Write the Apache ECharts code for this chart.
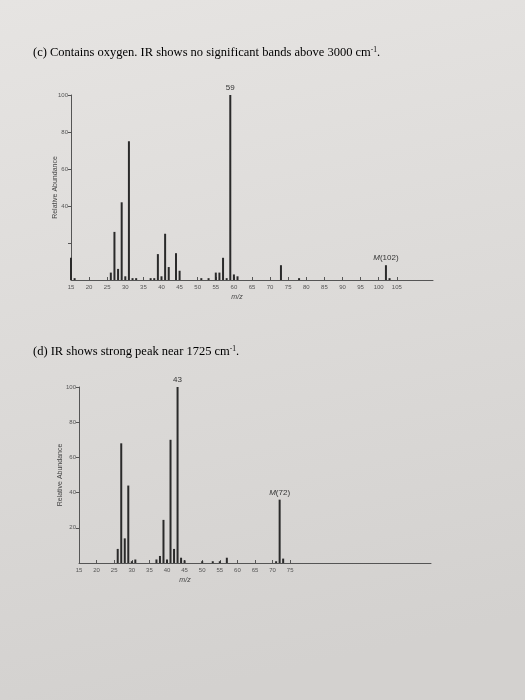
<!DOCTYPE html>
<html>
<head>
<meta charset="utf-8">
<script src="https://cdn.jsdelivr.net/npm/echarts@6/dist/echarts.min.js"></script>
<style>
  html, body { margin: 0; padding: 0; }
  #main { width: 525px; height: 700px; }
</style>
</head>
<body>
<div id="main"></div>
<script>
// spectrum (c)
const mzC = [15, 16, 26, 27, 28, 29, 30, 31, 32, 33, 37, 38, 39, 40, 41, 42, 44, 45, 51, 53, 55, 56, 57, 58, 59, 60, 61, 73, 78, 102, 103]
const abC = [12, 1, 4, 26, 6, 42, 2, 75, 1, 1, 1, 1, 14, 2, 25, 7, 14.5, 5, 1, 1, 4, 4, 12, 1, 100, 3, 2, 8, 1, 8, 1]
const ticksC = [15, 20, 25, 30, 35, 40, 45, 50, 55, 60, 65, 70, 75, 80, 85, 90, 95, 100, 105]
const yTicksC = [20, 40, 60, 80, 100]
const yLabelsC = [40, 60, 80, 100]
const peakLabelsC = { 59: '59', 102: '{i|M}(102)' }

// spectrum (d)
const mzD = [26, 27, 28, 29, 30, 31, 37, 38, 39, 40, 41, 42, 43, 44, 45, 50, 53, 55, 57, 71, 72, 73]
const abD = [8, 68, 14, 44, 1, 2, 2, 4, 24.5, 2, 70, 8, 100, 3, 1.5, 1, 1, 1, 3, 1, 36, 2.5]
const ticksD = [15, 20, 25, 30, 35, 40, 45, 50, 55, 60, 65, 70, 75]
const yTicksD = [20, 40, 60, 80, 100]
const yLabelsD = [20, 40, 60, 80, 100]
const peakLabelsD = { 43: '43', 72: '{i|M}(72)' }

const ink = '#2a2a2a'
const axisCol = '#555'
const smallFont = { fontSize: 6, color: '#555', fontFamily: 'Liberation Sans' }

function makeData(mz, ab, labels) {
  return mz.map(function (m, i) {
    const item = { value: [m, ab[i]] }
    if (labels[m]) {
      item.label = {
        show: true, position: 'top', distance: 3,
        formatter: labels[m],
        fontSize: 8, color: '#333', fontFamily: 'Liberation Sans',
        rich: { i: { fontSize: 8, fontStyle: 'italic', color: '#333', fontFamily: 'Liberation Sans' } }
      }
    }
    return item
  })
}

function xAxisFor(gridIndex, ticks, namePad) {
  return {
    gridIndex: gridIndex, type: 'value', min: 15, max: 115, interval: 5,
    axisLine: { lineStyle: { color: axisCol, width: 1 } },
    axisTick: { inside: true, length: 3, customValues: ticks, lineStyle: { color: axisCol } },
    axisLabel: Object.assign({ customValues: ticks, margin: 4 }, smallFont),
    splitLine: { show: false },
    name: 'm/z', nameLocation: 'middle', nameGap: 14, nameMoveOverlap: false,
    nameTextStyle: { fontSize: 7, fontStyle: 'italic', color: '#444', fontFamily: 'Liberation Sans', padding: namePad }
  }
}

function yAxisFor(gridIndex, ticks, labels, gap) {
  return {
    gridIndex: gridIndex, type: 'value', min: 0, max: 100, interval: 20,
    axisLine: { show: true, lineStyle: { color: axisCol, width: 1 } },
    axisTick: { show: true, length: 3, customValues: ticks, lineStyle: { color: axisCol } },
    axisLabel: Object.assign({ customValues: labels, margin: 3 }, smallFont),
    splitLine: { show: false },
    name: 'Relative Abundance', nameLocation: 'middle', nameRotate: 90, nameGap: gap, nameMoveOverlap: false,
    nameTextStyle: { fontSize: 7, color: '#444', fontFamily: 'Liberation Sans' }
  }
}

const titleRich = {
  a: { fontSize: 12.5, fontFamily: 'Liberation Serif', color: '#222', lineHeight: 13, verticalAlign: 'bottom' },
  s: { fontSize: 7.5, fontFamily: 'Liberation Serif', color: '#222', lineHeight: 13, verticalAlign: 'top' }
}

const chart = echarts.init(document.getElementById('main'))
chart.setOption({
  animation: false,
  backgroundColor: new echarts.graphic.LinearGradient(0, 0, 0.3, 1, [
    { offset: 0, color: '#e6e4e2' },
    { offset: 1, color: '#d3d1cf' }
  ]),
  graphic: [
    {
      type: 'text', left: 33, top: 46,
      style: { text: '{a|(c) Contains oxygen. IR shows no significant bands above 3000 cm}{s|-1}{a|.}', rich: titleRich }
    },
    {
      type: 'text', left: 33, top: 345,
      style: { text: '{a|(d) IR shows strong peak near 1725 cm}{s|-1}{a|.}', rich: titleRich }
    }
  ],
  grid: [
    { left: 71, top: 95, width: 362, height: 185 },
    { left: 79, top: 387, width: 352, height: 176 }
  ],
  xAxis: [
    xAxisFor(0, ticksC, [0, 30, 0, 0]),
    xAxisFor(1, ticksD, [0, 140, 0, 0])
  ],
  yAxis: [
    yAxisFor(0, yTicksC, yLabelsC, 12),
    yAxisFor(1, yTicksD, yLabelsD, 15)
  ],
  series: [
    {
      type: 'bar', xAxisIndex: 0, yAxisIndex: 0, barWidth: 2,
      itemStyle: { color: ink },
      data: makeData(mzC, abC, peakLabelsC)
    },
    {
      type: 'bar', xAxisIndex: 1, yAxisIndex: 1, barWidth: 2,
      itemStyle: { color: ink },
      data: makeData(mzD, abD, peakLabelsD)
    }
  ]
})
</script>
</body>
</html>
